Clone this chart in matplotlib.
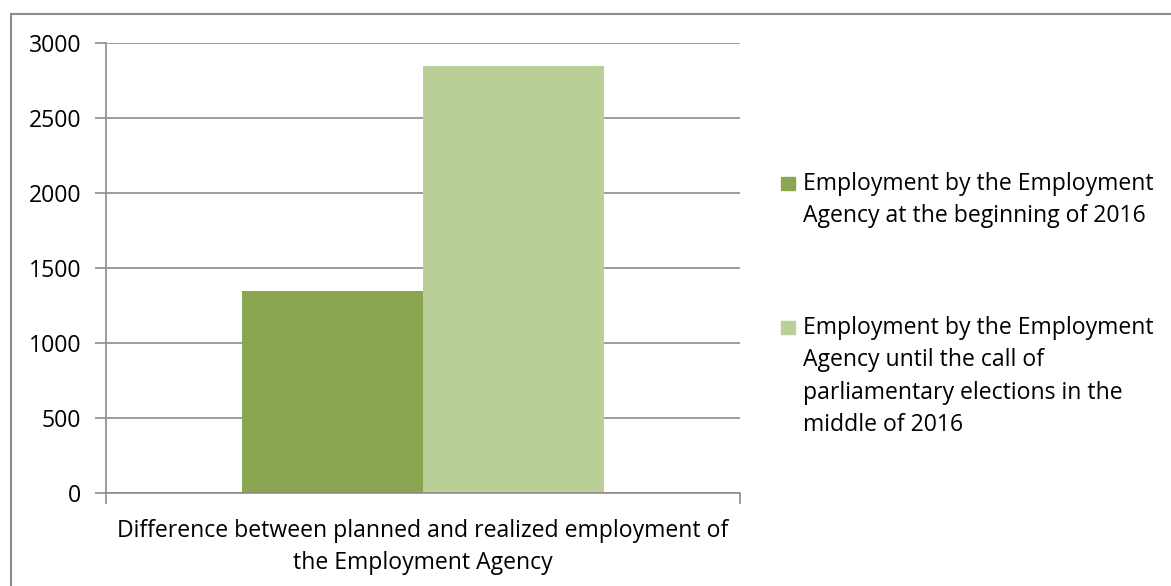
import matplotlib.pyplot as plt
from matplotlib.lines import Line2D
from matplotlib.patches import Rectangle

category = ['Difference between planned and realized employment of\nthe Employment Agency']
series_labels = ['Employment by the Employment\nAgency at the beginning of 2016',
                 'Employment by the Employment\nAgency until the call of\nparliamentary elections in the\nmiddle of 2016']
values = [1350, 2850]
colors = ['#8aa650', '#bacf98']
yticks = [0, 500, 1000, 1500, 2000, 2500, 3000]

plt.rcParams['font.family'] = ['Open Sans', 'DejaVu Sans']
fs = 16.6
ls = 1.46

W, H = 1171, 586
fig = plt.figure(figsize=(W / 100, H / 100), dpi=100)
ax = fig.add_axes([106 / W, 1 - 493 / H, (740 - 106) / W, (493 - 43) / H])

bw = 181 / 634
offs = [-bw / 2, bw / 2]
for i in range(len(values)):
    ax.bar(offs[i], values[i], width=bw, color=colors[i], zorder=2)

ax.set_xlim(-0.5, 0.5)
ax.set_ylim(0, 3000)
ax.set_yticks(yticks)
ax.set_yticklabels([str(v) for v in yticks], fontsize=fs)
ax.yaxis.grid(True, color='#8c8c8c', linewidth=1.2, zorder=0)
ax.tick_params(axis='y', length=8, color='#8c8c8c', width=1.2, pad=10)
ax.set_xticks([-0.5, 0.5])
ax.set_xticklabels(['', ''])
ax.tick_params(axis='x', length=8, color='#8c8c8c', width=1.2)
for s in ['top', 'right']:
    ax.spines[s].set_visible(False)
for s in ['left', 'bottom']:
    ax.spines[s].set_color('#8c8c8c')
    ax.spines[s].set_linewidth(1.2)

fig.text(423 / W, 1 - 547 / H, category[0], ha='center', va='center',
         fontsize=fs, linespacing=ls)

# legend drawn by hand so the marker sits at the first line
leg_y = [183, 327]
for i in range(len(series_labels)):
    y = leg_y[i]
    fig.patches.append(Rectangle((781 / W, 1 - (y + 7) / H), 14 / W, 13 / H,
                                 transform=fig.transFigure, color=colors[i]))
    fig.text(803 / W, 1 - (y - 11) / H, series_labels[i], ha='left', va='top',
             fontsize=fs, linespacing=ls)

# chart frame (only left and top edges visible in the crop)
fig.lines.append(Line2D([11 / W, 11 / W], [0, 1 - 14 / H], transform=fig.transFigure,
                        color='#8c8c8c', linewidth=1.5))
fig.lines.append(Line2D([11 / W, 1], [1 - 14 / H, 1 - 14 / H], transform=fig.transFigure,
                        color='#8c8c8c', linewidth=1.5))

fig.savefig('out.png', dpi=100)
